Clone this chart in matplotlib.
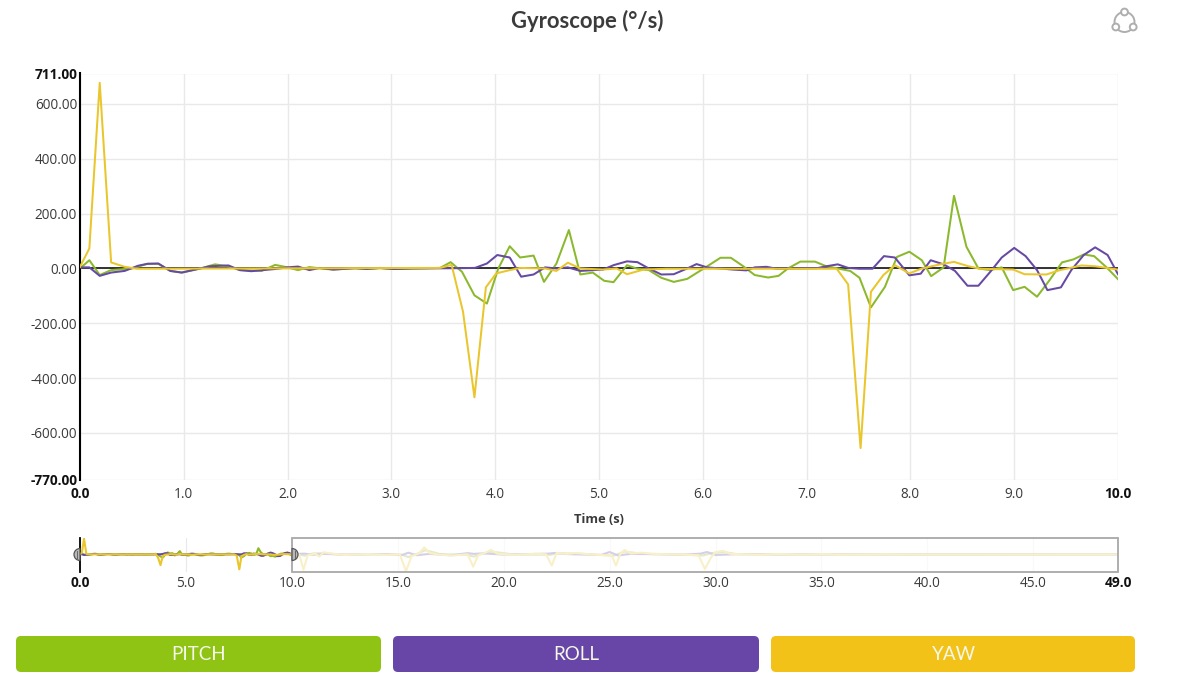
import numpy as np
import matplotlib
matplotlib.use("Agg")
import matplotlib.pyplot as plt
from matplotlib.patches import FancyBboxPatch, Wedge, Circle, Arc, Rectangle

TITLE = "Gyroscope (°/s)"
XLABEL = "Time (s)"
BUTTONS = ["PITCH", "ROLL", "YAW"]

y_ticks = [-770, -600, -400, -200, 0, 200, 400, 600, 711]
x_ticks = [0, 1, 2, 3, 4, 5, 6, 7, 8, 9, 10]
ov_ticks = [0, 5, 10, 15, 20, 25, 30, 35, 40, 45, 49]

pitch_t = [0, .09, .19, .30, .50, .65, .755, .87, .98, 1.16, 1.30, 1.43, 1.54, 1.75, 1.88, 2.0, 2.10, 2.21, 2.34, 2.44, 2.63, 2.76, 2.89, 3.02, 3.47,
           3.57, 3.68, 3.80, 3.92, 4.03, 4.14, 4.24, 4.37, 4.47, 4.59, 4.71, 4.82, 4.94, 5.05, 5.14, 5.27, 5.36, 5.48, 5.60, 5.72, 5.85, 6.01, 6.17, 6.27, 6.39, 6.50,
           6.63, 6.73, 6.82, 6.94, 7.08, 7.19, 7.30, 7.42, 7.51, 7.62, 7.755, 7.87, 7.99, 8.11, 8.20, 8.32, 8.42, 8.54, 8.655, 8.77, 8.88, 8.99, 9.10, 9.22, 9.34, 9.46, 9.57, 9.67, 9.77, 9.89, 10.0]
pitch_v = [0, 30, -24, -6, 0, 17, 17, -9, -15, 0, 15, 8, -6, -9, 13, 4, -6, 5, -1, -4, 1, -2, 1, -2, 2,
           23, -12, -98, -128, 0, 81, 40, 47, -49, 18, 140, -22, -15, -45, -50, 12, 0, -6, -34, -49, -38, 0, 39, 39, 8, -24,
           -33, -27, 0, 25, 25, 8, 0, -9, -34, -142, -67, 42, 61, 30, -28, 4, 265, 79, 0, -6, 4, -79, -67, -103, -43, 22, 33, 51, 45, 4, -39]

roll_t = [0, .09, .19, .30, .43, .56, .65, .755, .87, .98, 1.16, 1.25, 1.43, 1.54, 1.65, 1.88, 2.0, 2.10, 2.21, 2.31, 2.44, 2.66, 2.76, 2.89, 3.02, 3.2, 3.63,
          3.805, 3.92, 4.02, 4.14, 4.25, 4.37, 4.48, 4.59, 4.70, 4.82, 5.04, 5.14, 5.27, 5.37, 5.48, 5.60, 5.72, 5.85, 5.94, 6.04, 6.29, 6.42, 6.50,
          6.615, 6.71, 7.10, 7.19, 7.30, 7.40, 7.51, 7.635, 7.745, 7.85, 7.99, 8.10, 8.195, 8.32, 8.43, 8.55, 8.655, 8.77, 8.88, 9.0, 9.11, 9.22, 9.32, 9.45, 9.55, 9.67, 9.78, 9.90, 10.0]
roll_v = [4, 4, -27, -15, -9, 10, 17, 18, -9, -15, 0, 8, 11, -6, -10, -2, 4, 7, -6, 2, -4, 1, -2, 2, -2, 0, 1,
          2, 18, 49, 40, -30, -22, 4, 0, 4, -9, -4, 12, 26, 23, 0, -22, -21, 0, 16, 4, -4, -7, 4,
          6, -1, 1, 8, 15, 2, -1, -1, 45, 40, -25, -19, 30, 15, -9, -63, -63, -12, 40, 75, 45, -6, -79, -69, -6, 49, 77, 49, -21]

yaw_t = [0, .09, .19, .30, .43, .55, 3.47, 3.58, 3.69, 3.80, 3.91, 4.01, 4.14, 4.24, 4.48, 4.59, 4.70, 4.82, 5.04, 5.17, 5.27, 5.43, 5.65, 6.55,
         7.29, 7.40, 7.52, 7.62, 7.74, 7.85, 7.99, 8.11, 8.30, 8.42, 8.56, 8.67, 8.99, 9.10, 9.31, 9.44, 9.65, 9.78, 10.0]
yaw_v = [6, 73, 677, 22, 6, -1, 2, 13, -158, -470, -69, -18, -6, 2, 0, -9, 21, 0, -4, 0, -21, -4, -1, -1,
         -1, -58, -655, -85, -24, 12, -18, 0, 16, 24, 8, -1, -4, -21, -22, -6, 11, 8, -4]

# Remainder of the recording, only seen in the overview strip
pitch_rest_t = [10.3, 10.6, 11.0, 11.5, 12.5, 13.5, 15.2, 15.5, 15.9, 16.3, 17.0, 18.3, 18.6, 19.0, 19.4, 20.5, 22.2, 22.5, 23.4, 24.5, 25.2, 25.7, 26.5, 28.0, 29.4, 29.8, 30.4, 31.0, 33.0, 36.0, 40.0, 49.0]
pitch_rest_v = [10, -60, 40, 50, -20, 10, -20, -120, 20, 180, 10, -30, -100, 30, 120, -10, -20, 40, 40, -20, -60, 120, 30, 0, -50, 50, 100, 10, -10, 5, -5, 0]
roll_rest_t = [10.3, 10.6, 11.0, 11.5, 12.5, 14.5, 15.2, 15.5, 15.9, 16.5, 17.5, 18.3, 18.6, 19.0, 20.0, 22.1, 22.4, 23.0, 24.6, 25.0, 25.4, 26.0, 28.5, 29.3, 29.6, 30.0, 31.0, 35.0, 49.0]
roll_rest_v = [20, 30, -20, 20, -15, 10, -30, 70, -40, 20, -40, 50, 20, 40, -10, 30, 60, 10, -30, 100, -50, 20, -15, 30, 100, -30, 5, -3, 0]
yaw_rest_t = [10.35, 10.55, 10.75, 11.1, 11.3, 11.5, 11.8, 12.5, 13.5, 14.5, 15.1, 15.39, 15.65, 16.0, 16.25, 16.5, 17.0, 17.6, 18.3, 18.56, 18.8, 19.1, 19.4, 19.7, 20.5, 21.5, 22.0, 22.27, 22.5, 23.0, 23.4, 24.0, 24.8, 25.1, 25.3, 25.5, 25.7, 26.0, 26.5, 27.0, 28.0, 29.2, 29.5, 29.8, 30.0, 30.36, 30.7, 32.0, 33.0, 34.0, 35.0, 36.0, 38.0, 40.0, 49.0]
yaw_rest_v = [0, -670, -40, 30, -100, 90, 40, -30, 10, -20, -10, -740, -80, 40, 300, 60, -20, -50, 0, -540, -30, 60, 190, 30, -20, 20, 0, -490, 60, 20, 60, 0, -40, -60, -490, 0, 190, 40, 70, 20, 0, -40, -640, -120, 100, 150, 20, -15, 15, -10, 10, -10, 5, -5, 0]

C_PITCH, C_ROLL, C_YAW = "#8bb92d", "#6649a3", "#e9c62c"
BTN_COLORS = ["#8fc415", "#6746a8", "#f2c218"]
GRID = "#e9e9e9"
TXT = "#3a3a3a"
W, H = 1200, 674

plt.rcParams["font.family"] = ["Open Sans", "DejaVu Sans"]
fig = plt.figure(figsize=(W / 100, H / 100), dpi=100, facecolor="white")


def box(x0, y0, x1, y1):
    return [x0 / W, 1 - y1 / H, (x1 - x0) / W, (y1 - y0) / H]


# main chart
ax = fig.add_axes(box(80, 73.5, 1118, 479.6))
ax.set_xlim(0, 10)
ax.set_ylim(-770, 711)
for s in ("top", "right", "bottom"):
    ax.spines[s].set_visible(False)
ax.spines["left"].set_linewidth(1.5)
ax.spines["left"].set_color("black")
ax.set_xticks(x_ticks)
ax.set_yticks(y_ticks)
ax.set_xticklabels([f"{v:.1f}" for v in x_ticks], fontsize=9.8, color=TXT)
ax.set_yticklabels([f"{v:.2f}" for v in y_ticks], fontsize=9.8, color=TXT)
ax.tick_params(axis="both", length=0)
ax.tick_params(axis="x", pad=5.5)
ax.tick_params(axis="y", pad=2)
for lab in [ax.get_xticklabels()[0], ax.get_xticklabels()[-1], ax.get_yticklabels()[0], ax.get_yticklabels()[-1]]:
    lab.set_fontweight("bold")
    lab.set_color("#111111")
ax.grid(True, color=GRID, lw=1.0, zorder=0)
ax.set_axisbelow(True)
ax.axhline(0, color="#222222", lw=1.3, zorder=1.5)
ax.plot(pitch_t, pitch_v, color=C_PITCH, lw=1.45, zorder=2)
ax.plot(roll_t, roll_v, color=C_ROLL, lw=1.45, zorder=3)
ax.plot(yaw_t, yaw_v, color=C_YAW, lw=1.45, zorder=4)
ax.set_xlabel(XLABEL, fontsize=9.3, fontweight="bold", color=TXT, labelpad=8)

# overview strip
ov = fig.add_axes(box(80, 538, 1118, 572))
ov.set_xlim(0, 49)
ov.set_ylim(-770, 711)
for s in ov.spines.values():
    s.set_visible(False)
ov.spines["left"].set_visible(True)
ov.spines["left"].set_linewidth(1.3)
ov.set_yticks([])
ov.set_xticks(ov_ticks)
ov.set_xticklabels([f"{v:.1f}" for v in ov_ticks], fontsize=9.8, color=TXT)
ov.tick_params(axis="x", length=0, pad=3)
for lab in (ov.get_xticklabels()[0], ov.get_xticklabels()[-1]):
    lab.set_fontweight("bold")
    lab.set_color("#111111")
ov.grid(True, axis="x", color=GRID, lw=0.8, zorder=0)
ov.set_axisbelow(True)
ov.plot(pitch_t + pitch_rest_t, pitch_v + pitch_rest_v, color=C_PITCH, lw=1.5, zorder=2)
ov.plot(roll_t + roll_rest_t, roll_v + roll_rest_v, color=C_ROLL, lw=1.5, zorder=3)
ov.plot(yaw_t + yaw_rest_t, yaw_v + yaw_rest_v, color=C_YAW, lw=1.5, zorder=4)
ov.add_patch(Rectangle((10, -770), 39, 1481, facecolor="white", alpha=0.74, edgecolor="none", zorder=5))
ov.add_patch(Rectangle((10, -770), 39, 1481, facecolor="none", edgecolor="#a8a8a8", lw=1.3, zorder=6, clip_on=False))

# page furniture drawn in pixel coordinates
pg = fig.add_axes([0, 0, 1, 1], zorder=10)
pg.set_xlim(0, W)
pg.set_ylim(H, 0)
pg.axis("off")
pg.patch.set_alpha(0)
pg.text(587, 20.5, TITLE, ha="center", va="center", fontsize=15.8, fontweight="bold", family=["Lato", "DejaVu Sans"], color="#3b3b3b")

for (x0, x1), col, lab in zip([(16, 381), (393, 759), (771, 1135)], BTN_COLORS, BUTTONS):
    pg.add_patch(FancyBboxPatch((x0 + 5, 636 + 5), x1 - x0 - 10, 26,
                                boxstyle="round,pad=5,rounding_size=5", facecolor=col, edgecolor="none"))
    pg.text((x0 + x1) / 2 + 0.5, 655, lab, ha="center", va="center", fontsize=13.5, family=["Lato", "DejaVu Sans"], color="#f6f8ea")

# range handles
for cx, a0, a1 in [(80, 90, 270), (292, 270, 90)]:
    pg.add_patch(Wedge((cx, 554.5), 6, a0, a1, facecolor="#b9b9b9", edgecolor="#555555", lw=0.9))
    d = 3 if cx > 100 else -3
    pg.plot([cx + d, cx + d], [551, 558], color="#666666", lw=0.7)

# share icon
ICON = "#aeaeae"
for t0, t1 in [(30, 150), (150, 270), (270, 390)]:
    pg.add_patch(Arc((1124.5, 22), 20, 20, theta1=t0, theta2=t1, color=ICON, lw=1.4))
for c in [(1124.5, 12), (1115.8, 27), (1133.2, 27)]:
    pg.add_patch(Circle(c, 3.4, facecolor="white", edgecolor=ICON, lw=1.4))

fig.savefig("out.png", dpi=100, facecolor="white")
